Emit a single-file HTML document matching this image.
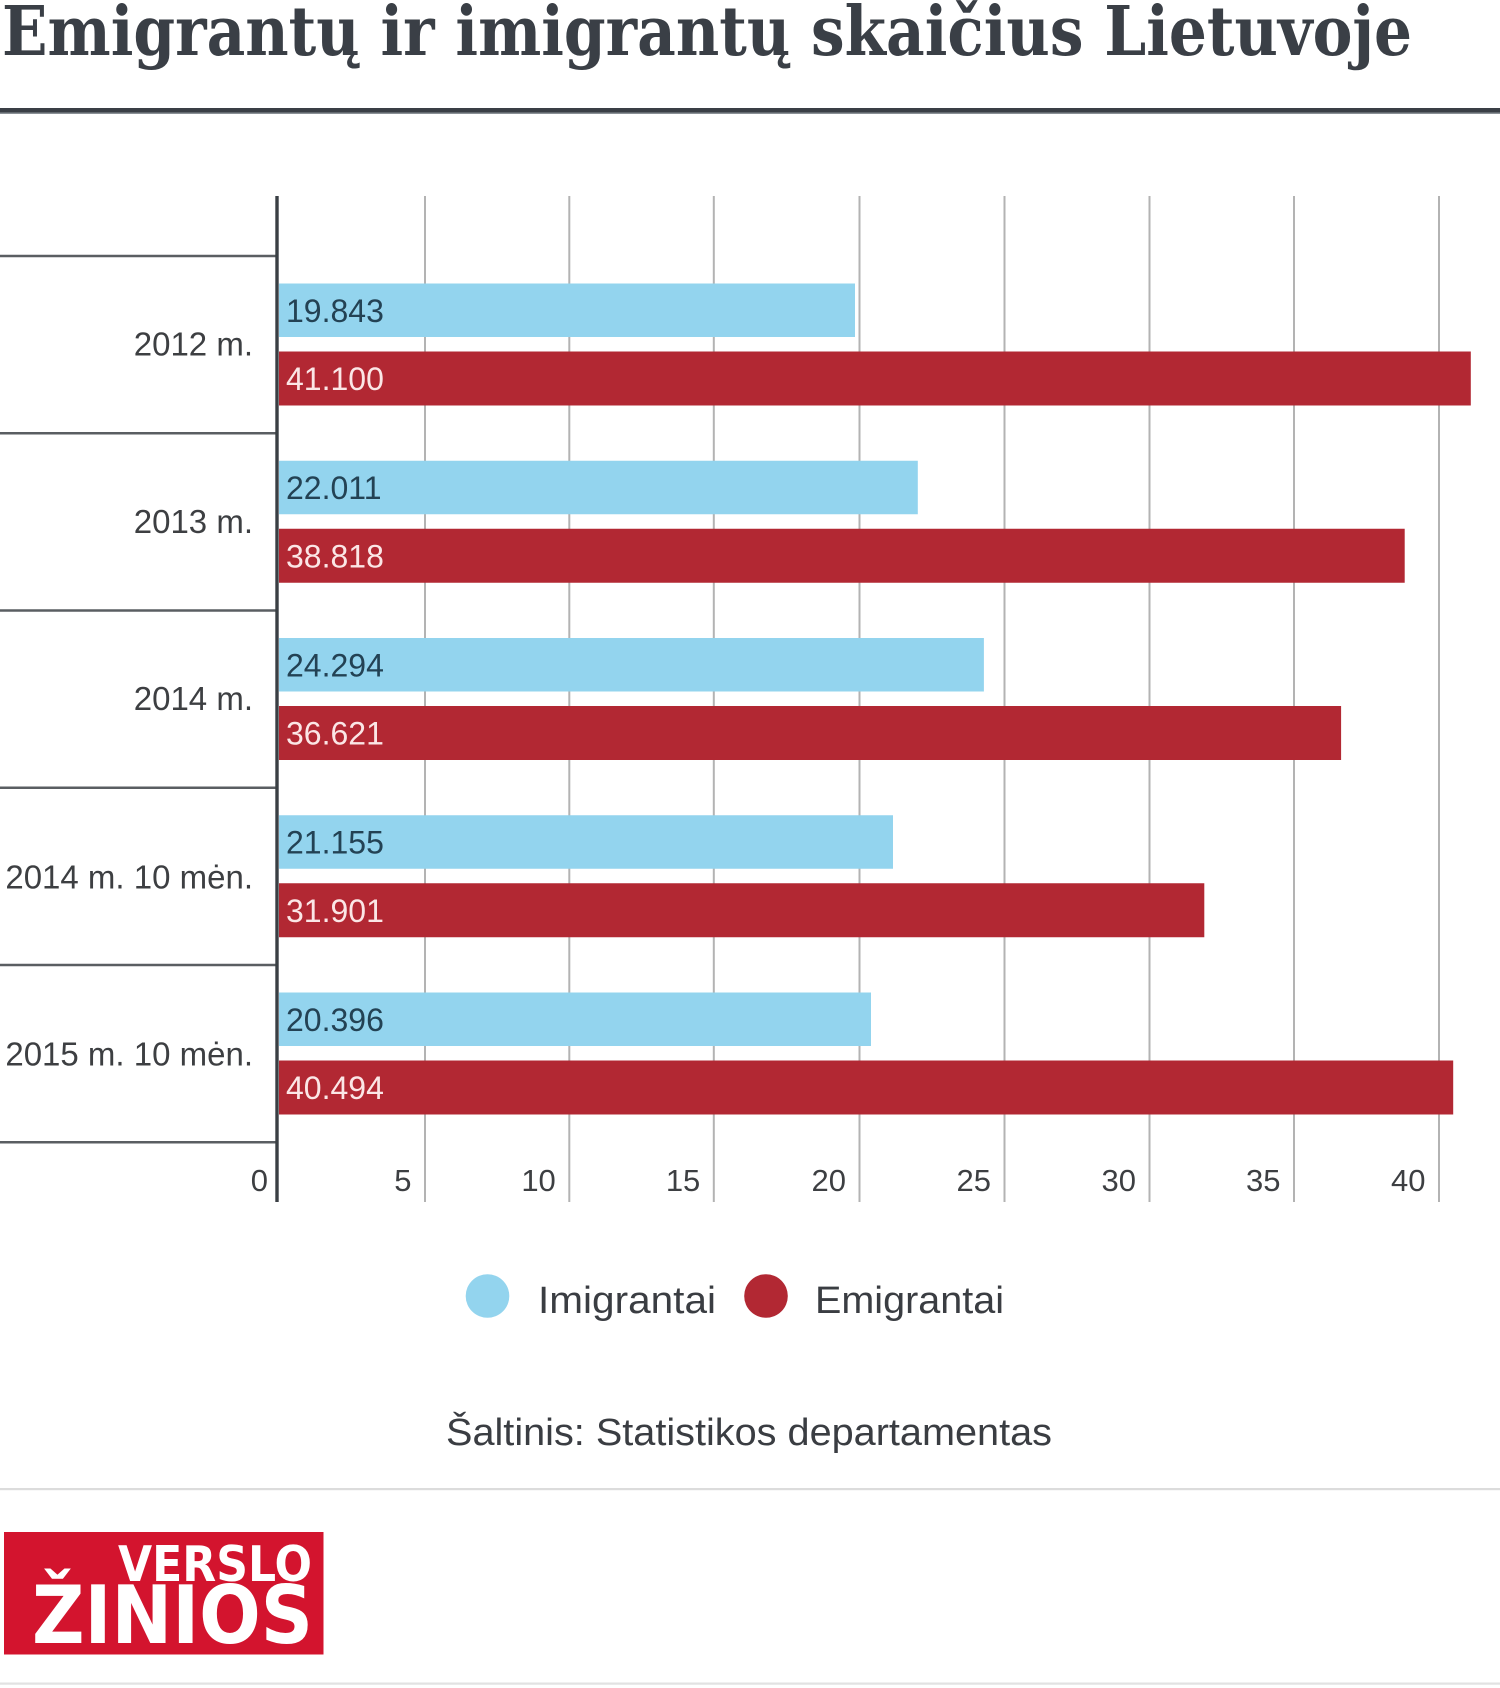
<!DOCTYPE html>
<html>
<head>
<meta charset="utf-8">
<style>
  html, body { margin: 0; padding: 0; background: #ffffff; }
  body { width: 1500px; height: 1688px; overflow: hidden; }
  svg { display: block; }
  .sans { font-family: "Liberation Sans", "DejaVu Sans", sans-serif; }
</style>
</head>
<body>
<svg width="1500" height="1688" viewBox="0 0 1500 1688" xmlns="http://www.w3.org/2000/svg">
  <rect x="0" y="0" width="1500" height="1688" fill="#ffffff"/>

  <!-- Title -->
  <text x="2" y="55" font-family="DejaVu Serif, Liberation Serif, serif" font-weight="bold" font-size="68" fill="#3a3f46" textLength="1410" lengthAdjust="spacingAndGlyphs">Emigrantų ir imigrantų skaičius Lietuvoje</text>
  <rect x="0" y="108" width="1500" height="4.5" fill="#3a3f46"/>
  <rect x="0" y="112.5" width="1500" height="1.5" fill="#8a9096"/>

  <!-- Gridlines -->
  <g stroke="#b3b3b3" stroke-width="2">
    <line x1="425" y1="196" x2="425" y2="1202"/>
    <line x1="569.3" y1="196" x2="569.3" y2="1202"/>
    <line x1="713.8" y1="196" x2="713.8" y2="1202"/>
    <line x1="859.5" y1="196" x2="859.5" y2="1202"/>
    <line x1="1004.5" y1="196" x2="1004.5" y2="1202"/>
    <line x1="1149.5" y1="196" x2="1149.5" y2="1202"/>
    <line x1="1294" y1="196" x2="1294" y2="1202"/>
    <line x1="1439" y1="196" x2="1439" y2="1202"/>
  </g>

  <!-- Category separators -->
  <g stroke="#5a5e62" stroke-width="2.4">
    <line x1="0" y1="256" x2="277" y2="256"/>
    <line x1="0" y1="433.25" x2="277" y2="433.25"/>
    <line x1="0" y1="610.5" x2="277" y2="610.5"/>
    <line x1="0" y1="787.75" x2="277" y2="787.75"/>
    <line x1="0" y1="965" x2="277" y2="965"/>
    <line x1="0" y1="1142.25" x2="277" y2="1142.25"/>
  </g>

  <!-- Bars -->
  <g>
    <rect x="279" y="283.5" width="576.0" height="53.5" fill="#93d4ee"/>
    <rect x="279" y="351.5" width="1191.8" height="54" fill="#b22833"/>

    <rect x="279" y="460.75" width="638.8" height="53.5" fill="#93d4ee"/>
    <rect x="279" y="528.75" width="1125.7" height="54" fill="#b22833"/>

    <rect x="279" y="638" width="704.9" height="53.5" fill="#93d4ee"/>
    <rect x="279" y="706" width="1062.1" height="54" fill="#b22833"/>

    <rect x="279" y="815.25" width="614.0" height="53.5" fill="#93d4ee"/>
    <rect x="279" y="883.25" width="925.3" height="54" fill="#b22833"/>

    <rect x="279" y="992.5" width="592.0" height="53.5" fill="#93d4ee"/>
    <rect x="279" y="1060.5" width="1174.2" height="54" fill="#b22833"/>
  </g>

  <!-- Axis line -->
  <rect x="275.3" y="196" width="3.4" height="1006" fill="#3a3f44"/>

  <!-- Value labels -->
  <g class="sans" font-size="32">
    <text x="286" y="321.75" fill="#234254">19.843</text>
    <text x="286" y="390" fill="#fbe6e6">41.100</text>
    <text x="286" y="499" fill="#234254">22.011</text>
    <text x="286" y="567.25" fill="#fbe6e6">38.818</text>
    <text x="286" y="676.25" fill="#234254">24.294</text>
    <text x="286" y="744.5" fill="#fbe6e6">36.621</text>
    <text x="286" y="853.5" fill="#234254">21.155</text>
    <text x="286" y="921.75" fill="#fbe6e6">31.901</text>
    <text x="286" y="1030.75" fill="#234254">20.396</text>
    <text x="286" y="1099" fill="#fbe6e6">40.494</text>
  </g>

  <!-- Category labels -->
  <g class="sans" font-size="33" fill="#3d3f42" text-anchor="end">
    <text x="253" y="355.5">2012 m.</text>
    <text x="253" y="532.75">2013 m.</text>
    <text x="253" y="710">2014 m.</text>
    <text x="253" y="888.5">2014 m. 10 mėn.</text>
    <text x="253" y="1065.5">2015 m. 10 mėn.</text>
  </g>

  <!-- Tick labels -->
  <g class="sans" font-size="31" fill="#3d3f42" text-anchor="end">
    <text x="268" y="1191">0</text>
    <text x="411.5" y="1191">5</text>
    <text x="555.8" y="1191">10</text>
    <text x="700.3" y="1191">15</text>
    <text x="846" y="1191">20</text>
    <text x="991" y="1191">25</text>
    <text x="1136" y="1191">30</text>
    <text x="1280.5" y="1191">35</text>
    <text x="1425.5" y="1191">40</text>
  </g>

  <!-- Legend -->
  <circle cx="487.5" cy="1296" r="21.8" fill="#93d4ee"/>
  <text class="sans" x="538" y="1313" font-size="38" fill="#3a3d42" textLength="178" lengthAdjust="spacingAndGlyphs">Imigrantai</text>
  <circle cx="766" cy="1296" r="21.8" fill="#b22833"/>
  <text class="sans" x="815" y="1313" font-size="38" fill="#3a3d42" textLength="189" lengthAdjust="spacingAndGlyphs">Emigrantai</text>

  <!-- Source -->
  <text class="sans" x="446" y="1445" font-size="38" fill="#3a3d42" textLength="606" lengthAdjust="spacingAndGlyphs">Šaltinis: Statistikos departamentas</text>

  <!-- Footer lines -->
  <rect x="0" y="1488" width="1500" height="2.2" fill="#dcdcdc"/>
  <rect x="0" y="1682.5" width="1500" height="2.2" fill="#e2e2e2"/>

  <!-- Logo -->
  <rect x="4" y="1532" width="319.5" height="122.5" fill="#d3142e"/>
  <text x="118" y="1581" font-family="DejaVu Sans, Liberation Sans, sans-serif" font-weight="bold" font-size="49" fill="#ffffff" textLength="194" lengthAdjust="spacingAndGlyphs">VERSLO</text>
  <text x="32" y="1643" font-family="DejaVu Sans, Liberation Sans, sans-serif" font-weight="bold" font-size="80" fill="#ffffff" textLength="281" lengthAdjust="spacingAndGlyphs">ŽINIOS</text>
</svg>
</body>
</html>
